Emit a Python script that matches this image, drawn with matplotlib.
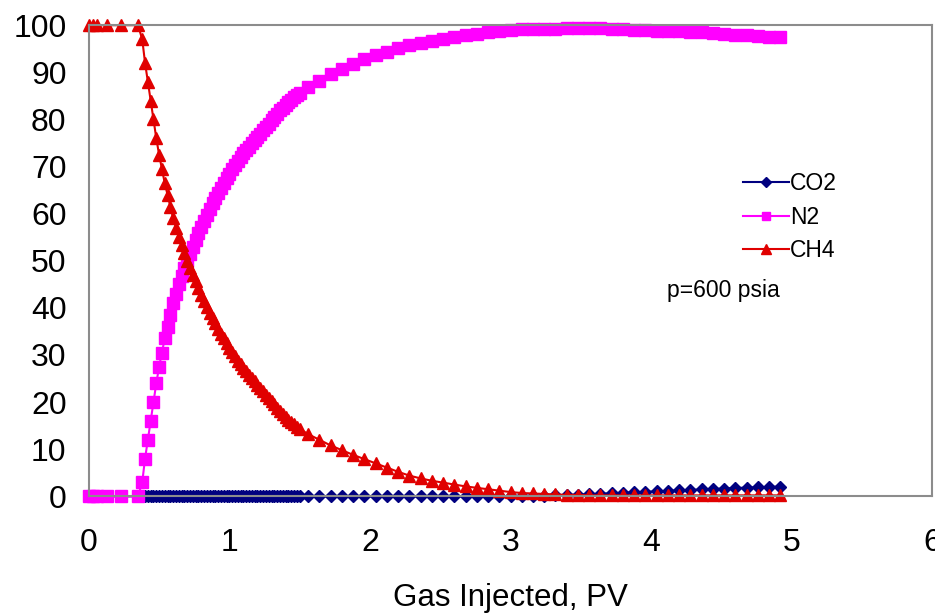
import matplotlib
matplotlib.use('Agg')
import matplotlib.pyplot as plt

plt.rcParams['font.family'] = ['Liberation Sans', 'DejaVu Sans']

# gas injected, PV
pv = [0.00, 0.03, 0.06, 0.13, 0.23, 0.35,
      0.38, 0.40, 0.42, 0.44, 0.46, 0.48, 0.50, 0.52, 0.54, 0.56,
      0.58, 0.60, 0.62, 0.64, 0.66, 0.68, 0.70, 0.72, 0.74, 0.76,
      0.78, 0.80, 0.82, 0.84, 0.86, 0.88, 0.90, 0.92, 0.94, 0.96,
      0.98, 1.00, 1.02, 1.04, 1.06, 1.08, 1.10, 1.12, 1.14, 1.16,
      1.18, 1.20, 1.22, 1.24, 1.26, 1.28, 1.30, 1.32, 1.34, 1.36,
      1.38, 1.40, 1.42, 1.44, 1.46, 1.48, 1.50,
      1.56, 1.64, 1.72, 1.80, 1.88, 1.96, 2.04, 2.12, 2.20, 2.28,
      2.36, 2.44, 2.52, 2.60, 2.68, 2.76, 2.84, 2.92, 3.00, 3.08,
      3.16, 3.24, 3.32, 3.40, 3.48, 3.56, 3.64, 3.72, 3.80, 3.88,
      3.96, 4.04, 4.12, 4.20, 4.28, 4.36, 4.44, 4.52, 4.60, 4.68,
      4.76, 4.84, 4.92]

co2 = [0, 0, 0, 0, 0, 0,
       0, 0, 0, 0, 0, 0, 0, 0, 0, 0,
       0, 0, 0, 0, 0, 0, 0, 0, 0, 0,
       0, 0, 0, 0, 0, 0, 0, 0, 0, 0,
       0, 0, 0, 0, 0, 0, 0, 0, 0, 0,
       0, 0, 0, 0, 0, 0, 0, 0, 0, 0,
       0, 0, 0, 0, 0, 0, 0,
       0, 0, 0, 0, 0, 0, 0, 0, 0, 0,
       0, 0, 0, 0, 0, 0, 0, 0, 0, 0.05,
       0.1, 0.15, 0.2, 0.3, 0.35, 0.45, 0.55, 0.65, 0.75, 0.85,
       0.95, 1.05, 1.15, 1.25, 1.35, 1.45, 1.55, 1.65, 1.75, 1.85,
       1.9, 2.0, 2.05]

n2 = [0, 0, 0, 0, 0, 0,
      3, 8, 12, 16, 20, 24, 27.5, 30.5, 33.5, 36,
      38.5, 41, 43, 45, 46.7, 48.4, 50, 51.5, 53, 54.4,
      55.8, 57.2, 58.5, 59.8, 61, 62.2, 63.3, 64.4, 65.5, 66.5,
      67.5, 68.5, 69.4, 70.3, 71.2, 72, 72.8, 73.5, 74.2, 74.9,
      75.6, 76.3, 77, 77.7, 78.4, 79.1, 79.8, 80.5, 81.2, 81.9,
      82.5, 83.1, 83.7, 84.2, 84.7, 85.2, 85.7,
      86.8, 88.2, 89.6, 90.8, 91.8, 92.8, 93.6, 94.4, 95.1, 95.7,
      96.2, 96.7, 97.1, 97.5, 97.9, 98.2, 98.5, 98.8, 99.0, 99.1,
      99.2, 99.2, 99.3, 99.4, 99.4, 99.5, 99.5, 99.3, 99.1, 98.9,
      98.9, 98.8, 98.7, 98.7, 98.6, 98.6, 98.4, 98.1, 98.0, 97.9,
      97.7, 97.6, 97.4]

ch4 = [100, 100, 100, 100, 100, 100,
       97, 92, 88, 84, 80, 76, 72.5, 69.5, 66.5, 64,
       61.5, 59, 57, 55, 53.3, 51.6, 50, 48.5, 47, 45.6,
       44.2, 42.8, 41.5, 40.2, 39, 37.8, 36.7, 35.6, 34.5, 33.5,
       32.5, 31.5, 30.6, 29.7, 28.8, 28, 27.2, 26.5, 25.8, 25.1,
       24.4, 23.7, 23, 22.3, 21.6, 20.9, 20.2, 19.5, 18.8, 18.1,
       17.5, 16.9, 16.3, 15.8, 15.3, 14.8, 14.3,
       13.2, 12.0, 10.8, 9.8, 8.8, 7.9, 7.0, 6.1, 5.2, 4.4,
       3.8, 3.3, 2.9, 2.5, 2.1, 1.8, 1.5, 1.2, 0.9, 0.7,
       0.6, 0.5, 0.4, 0.3, 0.3, 0.2, 0.2, 0.2, 0.2, 0.2,
       0.2, 0.2, 0.2, 0.2, 0.2, 0.2, 0.2, 0.2, 0.2, 0.2,
       0.2, 0.2, 0.2]

xticks = [0, 1, 2, 3, 4, 5, 6]
yticks = [0, 10, 20, 30, 40, 50, 60, 70, 80, 90, 100]

fig = plt.figure(figsize=(9.35, 6.15), dpi=100)
ax = fig.add_axes([0.095, 0.193, 0.902, 0.766])

ax.plot(pv, co2, color='#000080', marker='D', markersize=6, linewidth=1.5, label='CO2')
ax.plot(pv, n2, color='#FF00FF', marker='s', markersize=8, linewidth=1.5, label='N2')
ax.plot(pv, ch4, color='#E00000', marker='^', markersize=9, linewidth=1.5, label='CH4')

ax.set_xlim(0, 6)
ax.set_ylim(0, 100)
ax.set_xticks(xticks)
ax.set_yticks(yticks)
ax.tick_params(length=0, labelsize=23)
ax.tick_params(axis='y', pad=16)
ax.tick_params(axis='x', pad=23)
for s in ax.spines.values():
    s.set_color('#8c8c8c')
    s.set_linewidth(1.5)
ax.patch.set_alpha(0)
for ln in ax.lines:
    ln.set_clip_on(False)

ax.set_xlabel('Gas Injected, PV', fontsize=22.5, labelpad=18)

leg = ax.legend(loc='upper left', bbox_to_anchor=(0.765, 0.707), frameon=False,
                fontsize=16.5, handlelength=2.0, handletextpad=0.05, labelspacing=0.45,
                borderaxespad=0, markerscale=0.8)
ax.text(0.685, 0.437, 'p=600 psia', transform=ax.transAxes, fontsize=16.5,
        va='center', ha='left')

fig.savefig('out.png', dpi=100)
